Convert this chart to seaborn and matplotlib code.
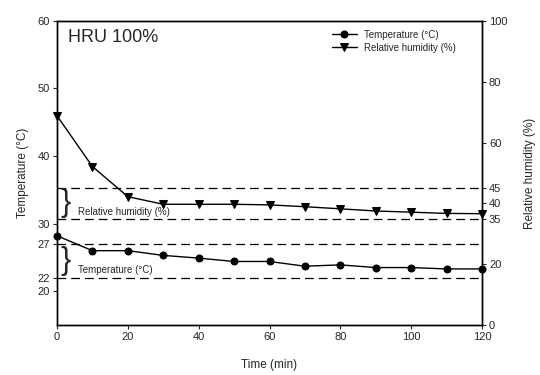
import matplotlib
matplotlib.use("Agg")
import matplotlib.pyplot as plt
import seaborn as sns
import pandas as pd

time_min = [0, 10, 20, 30, 40, 50, 60, 70, 80, 90, 100, 110, 120]
temperature = [28.2, 26.0, 26.0, 25.3, 24.9, 24.4, 24.4, 23.7, 23.9, 23.5, 23.5, 23.3, 23.3]
humidity = [68.8, 52.1, 42.2, 39.7, 39.7, 39.7, 39.5, 38.9, 38.2, 37.5, 37.1, 36.7, 36.6]
temp_band = [27, 22]
rh_band = [45, 35]
left_ticks = [20, 22, 27, 30, 40, 50, 60]
right_ticks = [0, 20, 35, 40, 45, 60, 80, 100]
x_ticks = [0, 20, 40, 60, 80, 100, 120]

sns.set_style("ticks")
plt.rcParams['font.family'] = ['Liberation Sans', 'DejaVu Sans']

df = pd.DataFrame({"time": time_min, "temp": temperature, "rh": humidity})

fig = plt.figure(figsize=(5.4, 3.75), dpi=100)
ax = fig.add_axes([0.1056, 0.1333, 0.787, 0.811])
ax2 = ax.twinx()

sns.lineplot(data=df, x="time", y="temp", ax=ax, color="black", marker="o",
             markersize=5, linewidth=1, markeredgecolor="black", label="Temperature (\u00b0C)",
             legend=False, clip_on=False, zorder=5)
sns.lineplot(data=df, x="time", y="rh", ax=ax2, color="black", marker="v",
             markersize=6, linewidth=1, markeredgecolor="black", label="Relative humidity (%)",
             legend=False, clip_on=False, zorder=5)

for v in temp_band:
    ax.axhline(v, color="black", linestyle=(0, (7, 4)), linewidth=0.9)
for v in rh_band:
    ax2.axhline(v, color="black", linestyle=(0, (7, 4)), linewidth=0.9)

ax.set_xlim(0, 120)
ax.set_ylim(15, 60)
ax2.set_ylim(0, 100)
ax.set_xticks(x_ticks)
ax.set_yticks(left_ticks)
ax2.set_yticks(right_ticks)
ax.tick_params(labelsize=8, length=3, width=0.8, pad=2)
ax2.tick_params(labelsize=8, length=3, width=0.8, pad=2)
for a in (ax, ax2):
    for s in a.spines.values():
        s.set_linewidth(1.0)
        s.set_color("black")

ax.set_xlabel("Time (min)", fontsize=8.5, labelpad=12)
ax.set_ylabel("Temperature (\u00b0C)", fontsize=8.5, labelpad=6)
ax2.set_ylabel("Relative humidity (%)", fontsize=8.5, labelpad=12)

ax.text(3.2, 57.5, "HRU 100%", fontsize=13, va="center", ha="left")

# braces and band labels
ax2.text(1.0, 40, "}", fontsize=22, va="center", ha="left", fontweight="light")
ax2.text(5.8, 37.0, "Relative humidity (%)", fontsize=7, va="center", ha="left")
ax.text(1.0, 24.5, "}", fontsize=22, va="center", ha="left", fontweight="light")
ax.text(5.8, 23.1, "Temperature (\u00b0C)", fontsize=7, va="center", ha="left")

h1, l1 = ax.get_legend_handles_labels()
h2, l2 = ax2.get_legend_handles_labels()
ax2.legend(h1 + h2, l1 + l2, loc="upper right", bbox_to_anchor=(0.96, 1.0), frameon=False,
           fontsize=7, handlelength=2.5, labelspacing=0.3)

fig.savefig("out.png", dpi=100)
